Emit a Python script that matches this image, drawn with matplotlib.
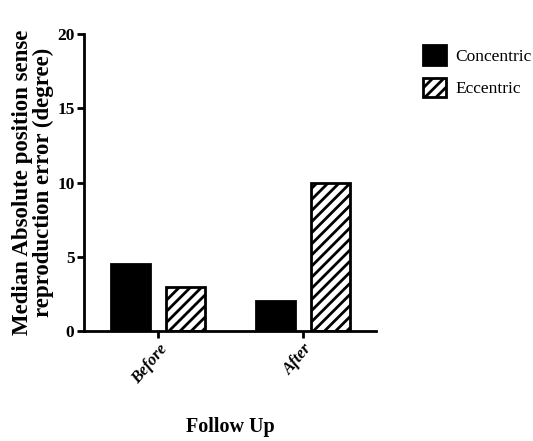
import matplotlib
matplotlib.use("Agg")
import matplotlib.pyplot as plt
import numpy as np

# data
groups = ["Before", "After"]
concentric = [4.55, 2.0]
eccentric = [3.0, 10.0]

plt.rcParams['font.family'] = ['Liberation Serif', 'DejaVu Serif']
plt.rcParams['hatch.linewidth'] = 2.0

fig = plt.figure(figsize=(5.33, 4.41), dpi=100)
ax = fig.add_axes([0.158, 0.249, 0.547, 0.674])

x = np.arange(len(groups))
w = 0.27
ax.bar(x - 0.19, concentric, w, color='black', edgecolor='black', linewidth=2, label='Concentric')
ax.bar(x + 0.19, eccentric, w, color='white', edgecolor='black', linewidth=2, hatch='///', label='Eccentric')

ax.set_xlim(-0.51, 1.5)
ax.set_ylim(0, 20)
ax.set_yticks([0, 5, 10, 15, 20])
ax.set_xticks(x)
ax.set_xticklabels(groups, rotation=50, ha='right', rotation_mode='anchor',
                   fontstyle='italic', fontweight='bold', fontsize=12)
for lab in ax.get_yticklabels():
    lab.set_fontweight('bold')
    lab.set_fontsize(12.5)

for s in ['top', 'right']:
    ax.spines[s].set_visible(False)
for s in ['left', 'bottom']:
    ax.spines[s].set_linewidth(2)
ax.tick_params(axis='both', width=2, length=5, pad=2)

ax.set_ylabel("Median Absolute position sense\nreproduction error (degree)",
              fontweight='bold', fontsize=16.5, labelpad=2, linespacing=1.0)
ax.set_xlabel("Follow Up", fontweight='bold', fontsize=14.5, labelpad=22)

fig.legend(loc='upper left', bbox_to_anchor=(0.77, 0.925), frameon=False,
           fontsize=12.5, handlelength=1.35, handleheight=1.35, handletextpad=0.55,
           labelspacing=0.75, borderpad=0.2)

fig.savefig("out.png", dpi=100)
